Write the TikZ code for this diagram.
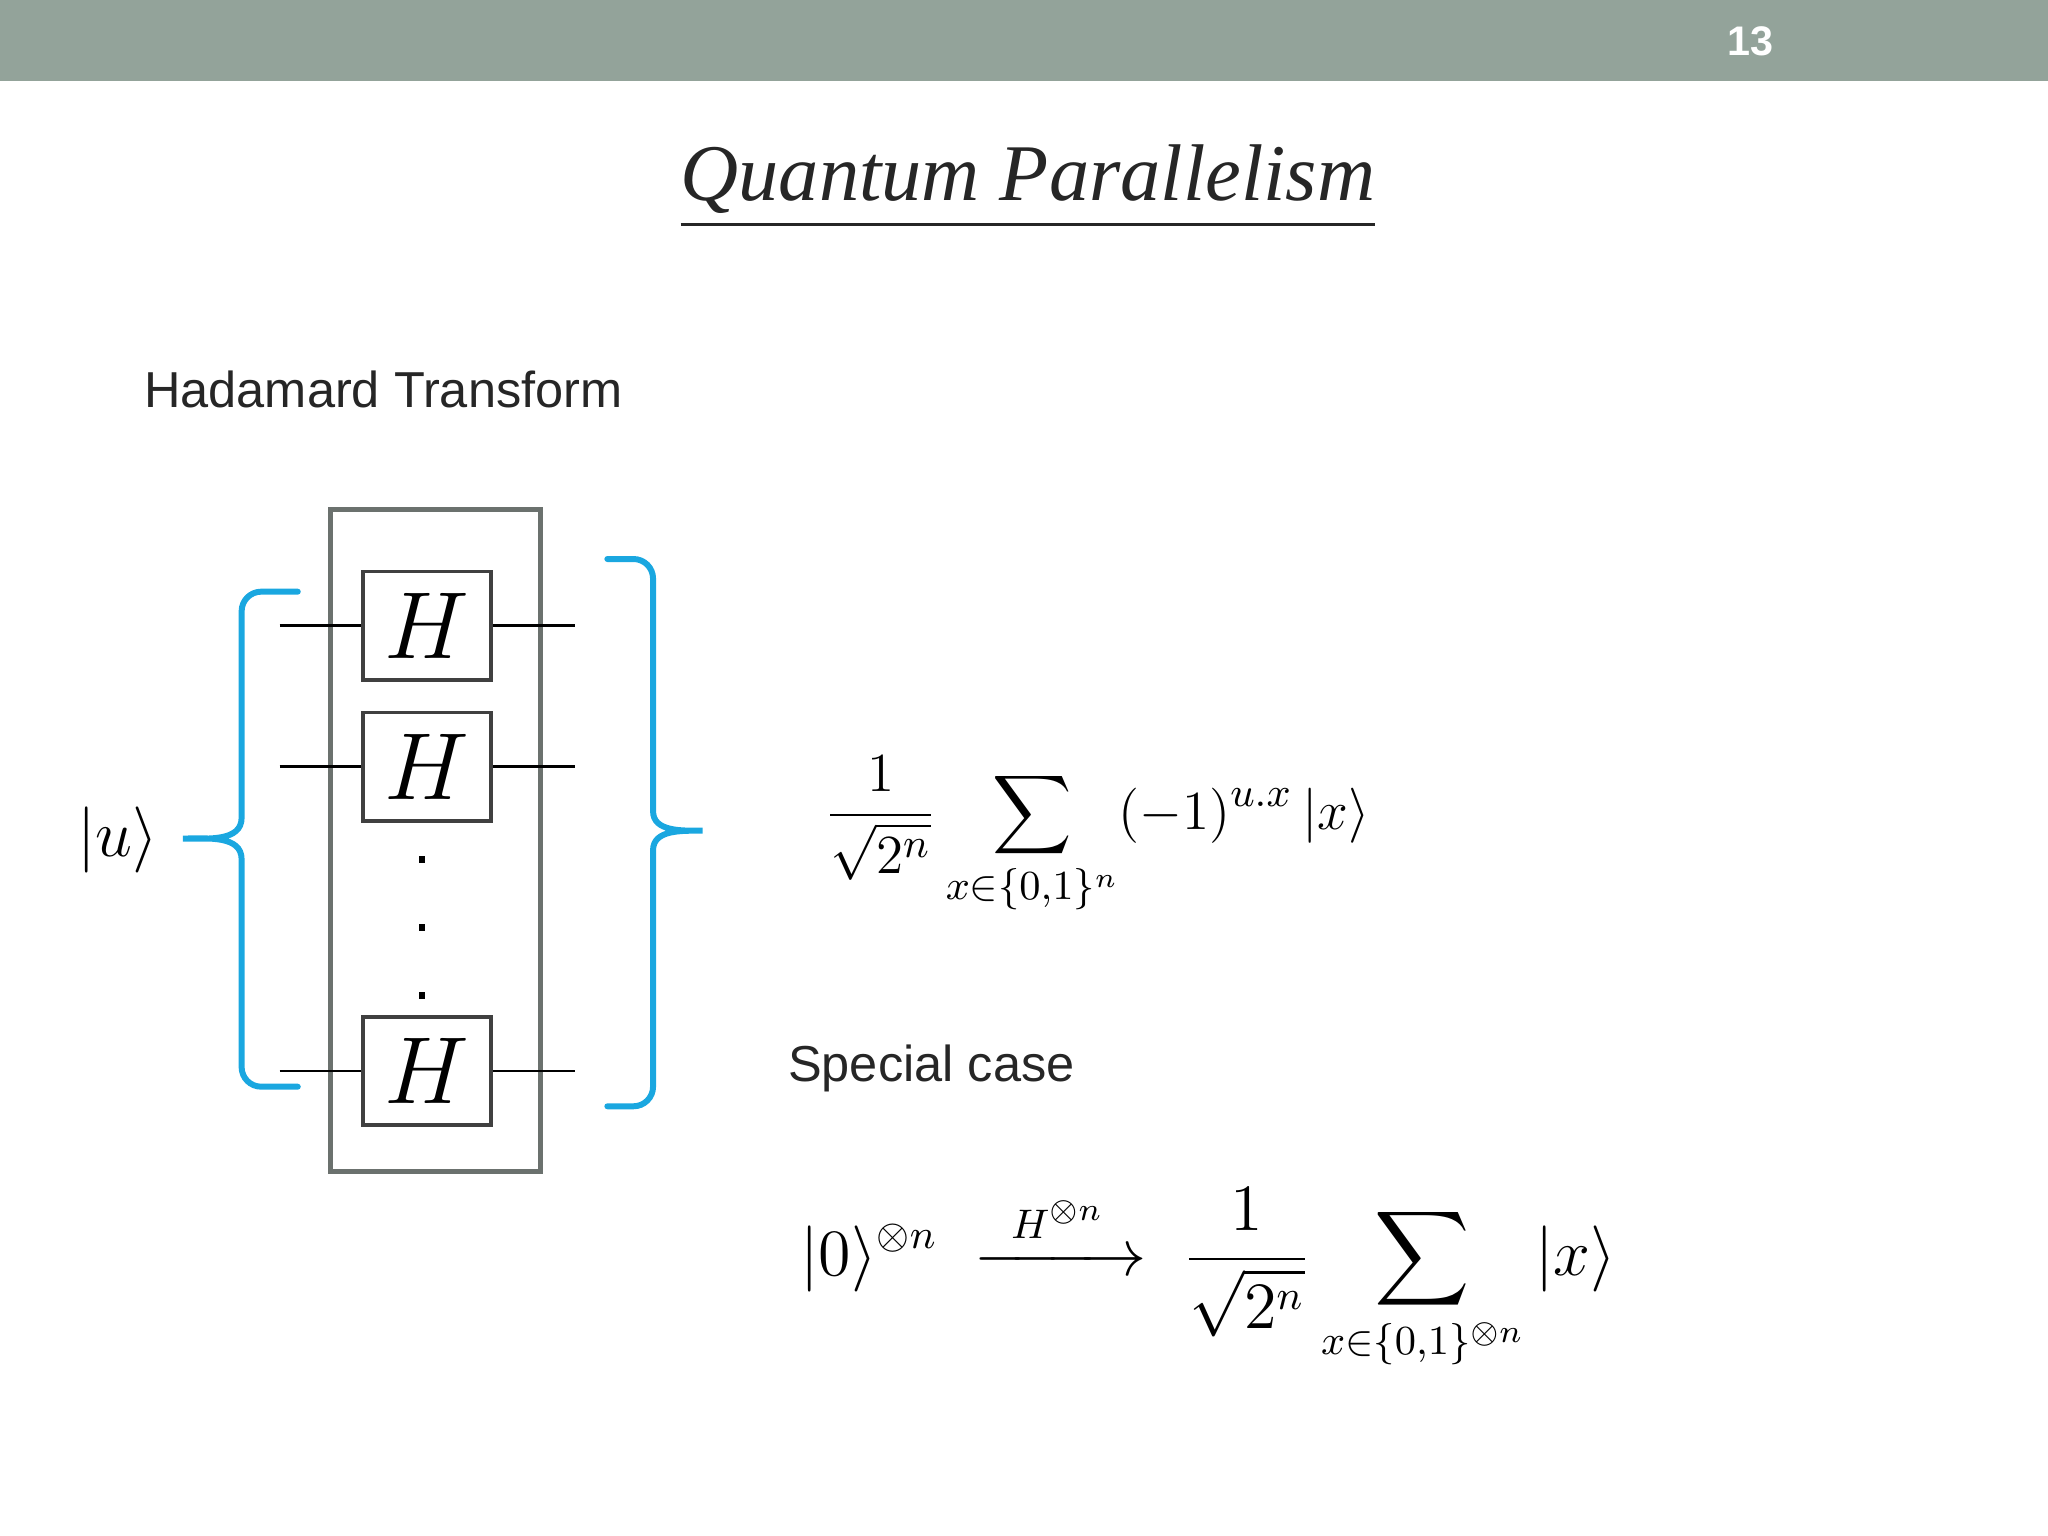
\documentclass[tikz,border=0pt]{standalone}
\usepackage{amsmath}
\usepackage{fontspec}
\newfontfamily\sansf{Liberation Sans}
\newfontfamily\seriff{Liberation Serif}
\definecolor{barc}{HTML}{93A39A}
\definecolor{boxc}{HTML}{6B716E}
\definecolor{bluec}{HTML}{1AA7E0}
\begin{document}
\begin{tikzpicture}[x=0.01cm,y=-0.01cm,
  hbox/.style={draw=black!75,line width=0.8pt,fill=white,minimum width=0.98cm,minimum height=0.83cm,inner sep=0pt,font=\fontsize{22}{22}\selectfont},
  wire/.style={line width=0.6pt},
  brc/.style={draw=bluec,line width=1.3pt,line cap=round},
  dotn/.style={fill=black,minimum size=0.05cm,inner sep=0pt}]
\useasboundingbox (0,0) rectangle (1568,1176);
\fill[barc] (0,0) rectangle (1568,62);
\node[text=white,font=\sansf\bfseries\fontsize{9}{10}\selectfont] (num) at (1340,32) {13};
\node[font=\seriff\fontsize{17.5}{20}\selectfont\itshape,text=black!85] (title) at (787,143) {\underline{Quantum Parallelism}};
\node[anchor=west,font=\sansf\fontsize{11}{13}\selectfont,text=black!85] (hadt) at (98,298) {Hadamard Transform};
\draw[boxc,line width=1pt] (253,390) rectangle (414,897);
\coordinate (w1l) at (214,479); \coordinate (w1r) at (440,479);
\coordinate (w2l) at (214,587); \coordinate (w2r) at (440,587);
\coordinate (w3l) at (214,820); \coordinate (w3r) at (440,820);
\draw[wire] (w1l)--(w1r); \draw[wire] (w2l)--(w2r); \draw[wire] (w3l)--(w3r);
\node[hbox] (h1) at (327,479) {$H$};
\node[hbox] (h2) at (327,587) {$H$};
\node[hbox] (h3) at (327,820) {$H$};
\node[dotn] (d1) at (323,658) {};
\node[dotn] (d2) at (323,710) {};
\node[dotn] (d3) at (323,762) {};
\draw[brc] (228,453) -- (200,453) to[out=180,in=90] (185,468) -- (185,626) to[out=-90,in=0] (140,642) to[out=0,in=90] (185,658) -- (185,817) to[out=-90,in=180] (200,832) -- (228,832);
\draw[brc] (465,428) -- (485,428) to[out=0,in=90] (500,443) -- (500,621) to[out=-90,in=180] (538,636) to[out=180,in=90] (500,651) -- (500,832) to[out=-90,in=0] (485,847) -- (465,847);
\node[font=\fontsize{14}{17}\selectfont] (u) at (90,643) {$|u\rangle$};
\node[font=\fontsize{13}{16}\selectfont] (f1) at (840,640) {$\displaystyle\frac{1}{\sqrt{2^n}}\sum_{x\in\{0,1\}^n}(-1)^{u.x}\,|x\rangle$};
\node[anchor=west,font=\sansf\fontsize{11}{13}\selectfont,text=black!85] (sc) at (591,818) {Special case};
\node[font=\fontsize{13.5}{16}\selectfont] (f2) at (925,980) {$\displaystyle |0\rangle^{\otimes n}\;\xrightarrow{\;\;H^{\otimes n}\;\;}\;\frac{1}{\sqrt{2^n}}\sum_{x\in\{0,1\}^{\otimes n}}|x\rangle$};
\end{tikzpicture}
\end{document}
